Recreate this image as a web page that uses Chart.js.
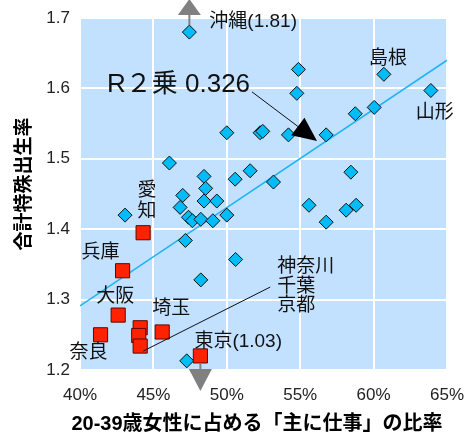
<!DOCTYPE html>
<html lang="ja">
<head>
<meta charset="utf-8">
<title>合計特殊出生率と女性の就業</title>
<script src="https://cdn.jsdelivr.net/npm/chart.js@4.4.1/dist/chart.umd.min.js"></script>
<style>
  html, body { margin: 0; padding: 0; background: #fff; }
  #chart { display: block; }
</style>
</head>
<body>
<canvas id="chart" width="465" height="436"></canvas>
<script>
// ===== データ =====
// 都市圏の府県 (赤)
const cityNames = ['愛知', '兵庫', '大阪', '奈良', '埼玉', '神奈川', '千葉', '京都', '東京'];
const cityX = [44.3, 42.9, 42.6, 41.4, 45.6, 44.1, 44.0, 44.1, 48.2];
const cityY = [1.395, 1.341, 1.278, 1.250, 1.254, 1.260, 1.249, 1.234, 1.03];

// 名前を出す県
const namedNames = ['沖縄', '島根', '山形'];
const namedX = [47.45, 60.7, 63.9];
const namedY = [1.81, 1.620, 1.597];

// その他の県
const otherX = [50.0, 52.27, 52.45, 46.09, 48.45, 51.59, 50.57, 54.88, 54.77, 60.04,
  58.75, 56.77, 54.2, 58.45, 53.18, 48.56, 47.0, 48.45, 49.32, 46.82,
  47.39, 47.66, 48.23, 49.05, 50.0, 43.07, 47.18, 50.6, 48.23, 47.27,
  55.6, 56.77, 58.13, 58.81];
const otherY = [1.537, 1.537, 1.539, 1.494, 1.475, 1.483, 1.471, 1.627, 1.593, 1.573,
  1.564, 1.534, 1.534, 1.481, 1.467, 1.458, 1.448, 1.440, 1.440, 1.431,
  1.417, 1.412, 1.414, 1.412, 1.420, 1.420, 1.384, 1.357, 1.328, 1.213,
  1.434, 1.410, 1.427, 1.434];

const xTicks = [40, 45, 50, 55, 60, 65];
const yTicks = [1.2, 1.3, 1.4, 1.5, 1.6, 1.7];

// 近似直線の両端
const trendX = [40, 65];
const trendY = [1.291, 1.640];
const rSquared = 0.326;

const yMin = yTicks[0];
const yMax = yTicks[yTicks.length - 1];

// 範囲外の値は枠の内側に寄せて描き、矢印を付ける
function shownY(v) {
  return Math.min(Math.max(v, yMin + 0.02), yMax - 0.02);
}
function isOut(v) {
  return v > yMax || v < yMin;
}

const FONT = '"Liberation Sans", Arial, "Noto Sans CJK JP", sans-serif';
Chart.defaults.font.family = FONT;
Chart.defaults.color = '#222';

const bluePoints = otherX.map((x, i) => ({ x: x, y: otherY[i] }))
  .concat(namedX.map((x, i) => ({ x: x, y: shownY(namedY[i]) })));
const redPoints = cityX.map((x, i) => ({ x: x, y: shownY(cityY[i]) }));

// ラベル位置 (点からのずれ, px)
const labelPos = {
  '沖縄': { dx: 20, dy: -10, align: 'left' },
  '島根': { dx: 4, dy: -16, align: 'center' },
  '山形': { dx: 4, dy: 22, align: 'center' },
  '兵庫': { dx: -22, dy: -18, align: 'center' },
  '大阪': { dx: -3, dy: -18, align: 'center' },
  '奈良': { dx: -12, dy: 18, align: 'center' },
  '埼玉': { dx: 9, dy: -23, align: 'center' },
  '東京': { dx: -6, dy: -14, align: 'left' }
};

function pixelOf(chart, x, y) {
  return {
    x: chart.scales.x.getPixelForValue(x),
    y: chart.scales.y.getPixelForValue(y)
  };
}

function valueText(name, v) {
  return isOut(v) ? name + '(' + v.toFixed(2) + ')' : name;
}

// 範囲外の点に付ける灰色の矢印
function outArrow(ctx, area, p, up) {
  ctx.save();
  ctx.strokeStyle = '#808080';
  ctx.fillStyle = '#808080';
  ctx.lineWidth = 2;
  const base = up ? area.top - 3 : area.bottom - 1;
  const tip = up ? base - 16 : base + 22;
  ctx.beginPath();
  ctx.moveTo(p.x, up ? p.y - 7 : p.y + 8);
  ctx.lineTo(p.x, base);
  ctx.stroke();
  ctx.beginPath();
  ctx.moveTo(p.x - 11.5, base);
  ctx.lineTo(p.x + 11.5, base);
  ctx.lineTo(p.x, tip);
  ctx.closePath();
  ctx.fill();
  ctx.restore();
}

const plotBg = {
  id: 'plotBg',
  beforeDraw(chart) {
    const { ctx, chartArea: a } = chart;
    ctx.save();
    ctx.fillStyle = '#C2E0FF';
    ctx.fillRect(a.left, a.top, a.right - a.left, a.bottom - a.top);
    ctx.restore();
  }
};

const notes = {
  id: 'notes',
  afterDatasetsDraw(chart) {
    const { ctx, chartArea: a } = chart;
    ctx.save();
    ctx.fillStyle = '#111';
    ctx.textBaseline = 'middle';
    ctx.font = '19px ' + FONT;

    // 県名ラベル
    namedNames.forEach((n, i) => {
      const p = pixelOf(chart, namedX[i], shownY(namedY[i]));
      const o = labelPos[n];
      ctx.textAlign = o.align;
      ctx.fillText(valueText(n, namedY[i]), p.x + o.dx, p.y + o.dy);
      if (isOut(namedY[i])) outArrow(ctx, a, p, namedY[i] > yMax);
    });

    cityNames.forEach((n, i) => {
      const p = pixelOf(chart, cityX[i], shownY(cityY[i]));
      const o = labelPos[n];
      if (o) {
        ctx.textAlign = o.align;
        ctx.fillText(valueText(n, cityY[i]), p.x + o.dx, p.y + o.dy);
      }
      if (isOut(cityY[i])) outArrow(ctx, a, p, cityY[i] > yMax);
    });

    // 愛知は縦書き
    const ai = cityNames.indexOf('愛知');
    const pa = pixelOf(chart, cityX[ai], cityY[ai]);
    ctx.textAlign = 'center';
    ctx.fillText('愛', pa.x + 4, pa.y - 42);
    ctx.fillText('知', pa.x + 4, pa.y - 21);

    // 重なっている3府県はまとめて引き出し線
    const group = ['神奈川', '千葉', '京都'];
    const pk = pixelOf(chart, cityX[7], cityY[7]);
    const gx = pk.x + 137;
    const gy = pk.y - 79;
    ctx.textAlign = 'left';
    group.forEach((n, i) => ctx.fillText(n, gx, gy + i * 19.5));
    ctx.strokeStyle = '#111';
    ctx.lineWidth = 1;
    ctx.beginPath();
    ctx.moveTo(gx - 7, gy + 20);
    ctx.lineTo(pk.x + 3, pk.y + 5);
    ctx.stroke();

    // 決定係数と矢印
    const r = pixelOf(chart, 41.84, 1.605);
    ctx.font = '26px ' + FONT;
    ctx.textAlign = 'left';
    ctx.fillText('R２乗 ' + rSquared.toFixed(3), r.x, r.y);
    const sx = r.x + 145, sy = r.y + 7;
    const tx = sx + 65, ty = sy + 49;
    const len = Math.hypot(tx - sx, ty - sy);
    const ux = (tx - sx) / len, uy = (ty - sy) / len;
    const bx = tx - 24 * ux, by = ty - 24 * uy;
    ctx.beginPath();
    ctx.moveTo(sx, sy);
    ctx.lineTo(bx, by);
    ctx.stroke();
    ctx.fillStyle = '#000';
    ctx.beginPath();
    ctx.moveTo(tx, ty);
    ctx.lineTo(bx - 11 * uy, by + 11 * ux);
    ctx.lineTo(bx + 11 * uy, by - 11 * ux);
    ctx.closePath();
    ctx.fill();
    ctx.restore();
  },
  afterDraw(chart) {
    const { ctx } = chart;
    ctx.save();
    ctx.fillStyle = '#000';
    ctx.textAlign = 'center';
    ctx.textBaseline = 'middle';
    ctx.font = 'bold 20px ' + FONT;
    ctx.fillText('20-39歳女性に占める「主に仕事」の比率', 257, 424);
    ctx.translate(25, 184);
    ctx.rotate(-Math.PI / 2);
    ctx.font = 'bold 19px ' + FONT;
    ctx.fillText('合計特殊出生率', 0, 0);
    ctx.restore();
  }
};

new Chart(document.getElementById('chart'), {
  type: 'scatter',
  data: {
    datasets: [
      {
        label: '都市圏',
        data: redPoints,
        pointStyle: 'rect',
        pointRadius: 10,
        backgroundColor: '#FF2200',
        borderColor: '#5A0A00',
        borderWidth: 1,
        order: 1
      },
      {
        label: 'その他',
        data: bluePoints,
        pointStyle: 'rectRot',
        pointRadius: 7,
        backgroundColor: '#00BCF8',
        borderColor: '#111',
        borderWidth: 1,
        order: 2
      },
      {
        label: '近似直線',
        type: 'line',
        data: trendX.map((x, i) => ({ x: x, y: trendY[i] })),
        borderColor: '#20B4F4',
        borderWidth: 1.5,
        pointRadius: 0,
        fill: false,
        order: 3
      }
    ]
  },
  options: {
    responsive: false,
    animation: false,
    layout: { padding: { top: 18, right: 18, left: 0, bottom: 0 } },
    plugins: {
      legend: { display: false },
      tooltip: { enabled: false }
    },
    scales: {
      x: {
        type: 'linear',
        min: xTicks[0],
        max: xTicks[xTicks.length - 1],
        afterBuildTicks: s => { s.ticks = xTicks.map(v => ({ value: v })); },
        afterFit: s => { s.height = 66; s.paddingLeft = 0; s.paddingRight = 0; },
        grid: { color: '#fff', lineWidth: 2, drawTicks: false },
        border: { display: false },
        ticks: {
          padding: 15,
          font: { size: 17 },
          callback: v => v + '%'
        }
      },
      y: {
        min: yMin,
        max: yMax,
        afterBuildTicks: s => { s.ticks = yTicks.map(v => ({ value: v })); },
        afterFit: s => { s.width = 80; s.paddingTop = 0; s.paddingBottom = 0; },
        grid: { color: '#fff', lineWidth: 2, drawTicks: false },
        border: { display: false },
        ticks: {
          padding: 10,
          font: { size: 17 },
          callback: v => v.toFixed(1)
        }
      }
    }
  },
  plugins: [plotBg, notes]
});
</script>
</body>
</html>
